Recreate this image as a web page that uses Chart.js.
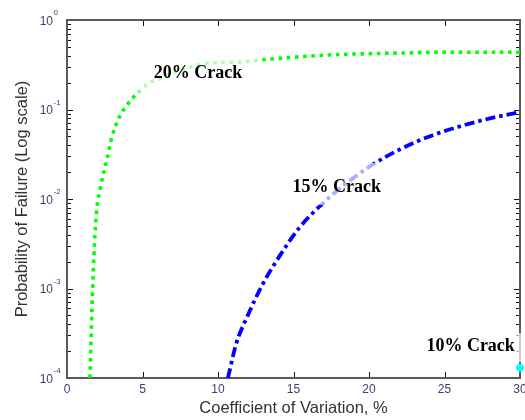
<!DOCTYPE html>
<html>
<head>
<meta charset="utf-8">
<script src="https://cdn.jsdelivr.net/npm/chart.js@4"></script>
<style>
  html, body { margin: 0; padding: 0; background: #fff; }
  #wrap { width: 525px; height: 420px; position: relative; }
</style>
</head>
<body>
<div id="wrap"><canvas id="pf-chart"></canvas></div>
<script>
// values
const covGreen = [1.52, 1.59, 1.65, 1.72, 1.78, 1.85, 1.92, 1.98, 2.05, 2.18, 2.31, 2.51, 2.64, 2.97, 3.37, 3.97, 4.63, 5.49, 6.4, 7.5, 9.5, 11.5, 12.6, 17.4, 22, 25.4, 30];
const pfGreen = [1.0e-4, 2.6e-4, 5.8e-4, 1.23e-3, 2.3e-3, 4.0e-3, 5.9e-3, 7.9e-3, 9.8e-3, 0.0126, 0.0162, 0.0224, 0.0275, 0.049, 0.076, 0.112, 0.151, 0.20, 0.229, 0.275, 0.331, 0.339, 0.355, 0.407, 0.427, 0.437, 0.437];

const covBlue = [10.66, 11.2, 11.9, 12.9, 14.0, 15.4, 16.8, 18.3, 20.1, 22.0, 24.0, 26.0, 28.0, 30.0];
const pfBlue = [1.0e-4, 2.4e-4, 4.7e-4, 1.07e-3, 2.2e-3, 4.8e-3, 8.5e-3, 0.0141, 0.0234, 0.0355, 0.050, 0.0646, 0.0794, 0.0933];

const covCyan = [30];
const pfCyan = [1.3e-4];

const xTicks = [0, 5, 10, 15, 20, 25, 30];
const yDecades = [-4, -3, -2, -1, 0];

// curve labels: anchor in data units, box offsets in px from anchor
const curveLabels = [
  { text: '20% Crack', x: 5.75, y: 0.225, box: [-16, -21, 122, 35] },
  { text: '15% Crack', x: 14.94, y: 0.012, box: [-13, -29, 115, 42] },
  { text: '10% Crack', x: 23.8, y: 2.0e-4, box: [-12, -18, 110, 29] }
];

const pts = (xs, ys) => xs.map((x, i) => ({ x: x, y: ys[i] }));

const framePlugin = {
  id: 'frame',
  beforeDatasetsDraw(chart) {
    const { ctx, chartArea: a, scales } = chart;
    const xs = scales.x, ys = scales.y;
    ctx.save();
    ctx.strokeStyle = '#111';
    ctx.lineWidth = 1;
    ctx.beginPath();
    xTicks.forEach(v => {
      const px = Math.round(xs.getPixelForValue(v)) + 0.5;
      ctx.moveTo(px, a.bottom); ctx.lineTo(px, a.bottom - 6);
      ctx.moveTo(px, a.top); ctx.lineTo(px, a.top + 6);
    });
    yDecades.forEach(d => {
      for (let m = 1; m <= 9; m++) {
        if (d === 0 && m > 1) break;
        const py = Math.round(ys.getPixelForValue(m * Math.pow(10, d))) + 0.5;
        const len = m === 1 ? 6 : 4;
        ctx.moveTo(a.left, py); ctx.lineTo(a.left + len, py);
        ctx.moveTo(a.right, py); ctx.lineTo(a.right - len, py);
      }
    });
    ctx.stroke();
    ctx.strokeStyle = '#5a5a5a';
    ctx.lineWidth = 2;
    ctx.strokeRect(a.left, a.top, a.right - a.left, a.bottom - a.top);
    ctx.restore();
  },
  afterDatasetsDraw(chart) {
    const { ctx, scales } = chart;
    ctx.save();
    curveLabels.forEach(l => {
      const px = scales.x.getPixelForValue(l.x);
      const py = scales.y.getPixelForValue(l.y);
      ctx.fillStyle = 'rgba(255,255,255,0.68)';
      ctx.fillRect(px + l.box[0], py + l.box[1], l.box[2], l.box[3]);
      ctx.fillStyle = '#000';
      ctx.font = 'bold 18px "Liberation Serif", "Times New Roman", serif';
      ctx.textAlign = 'left';
      ctx.textBaseline = 'alphabetic';
      ctx.fillText(l.text, px, py);
    });
    ctx.restore();
  },
  afterDraw(chart) {
    const { ctx, chartArea: a, scales } = chart;
    ctx.save();
    ctx.fillStyle = '#4a3a6e';
    ctx.textBaseline = 'middle';
    yDecades.forEach(d => {
      const py = scales.y.getPixelForValue(Math.pow(10, d));
      ctx.font = '12px "Liberation Sans", Arial, sans-serif';
      ctx.textAlign = 'right';
      ctx.fillText('10', 53, py + 1.5);
      ctx.font = '8px "Liberation Sans", Arial, sans-serif';
      ctx.textAlign = 'left';
      ctx.fillText(String(d), 53.5, py - 7);
    });
    ctx.font = '12px "Liberation Sans", Arial, sans-serif';
    ctx.textAlign = 'center';
    xTicks.forEach(v => {
      ctx.fillText(String(v), scales.x.getPixelForValue(v), 389.5);
    });
    ctx.fillStyle = '#333338';
    ctx.font = '16.5px "Liberation Sans", Arial, sans-serif';
    ctx.fillText('Coefficient of Variation, %', (a.left + a.right) / 2, 408.5);
    ctx.translate(22.5, (a.top + a.bottom) / 2);
    ctx.rotate(-Math.PI / 2);
    ctx.fillText('Probability of Failure (Log scale)', 0, 0);
    ctx.restore();
  }
};

new Chart(document.getElementById('pf-chart'), {
  type: 'scatter',
  data: {
    datasets: [
      { label: '20% Crack', data: pts(covGreen, pfGreen), showLine: true, borderColor: '#00ff00', borderWidth: 3.6, borderDash: [3.6, 4.6], borderCapStyle: 'butt', pointRadius: 0, cubicInterpolationMode: 'monotone' },
      { label: '15% Crack', data: pts(covBlue, pfBlue), showLine: true, borderColor: '#0000ff', borderWidth: 3.8, borderDash: [10, 4, 3.5, 4], borderCapStyle: 'butt', pointRadius: 0, cubicInterpolationMode: 'monotone' },
      { label: '10% Crack', data: pts(covCyan, pfCyan), showLine: false, pointRadius: 3.5, pointBackgroundColor: '#00ffff', pointBorderColor: '#00ffff', clip: false }
    ]
  },
  options: {
    responsive: true,
    maintainAspectRatio: false,
    animation: false,
    layout: { padding: { top: 20, right: 4, left: 0, bottom: 0 } },
    plugins: { legend: { display: false }, tooltip: { enabled: false } },
    scales: {
      x: {
        type: 'linear', min: 0, max: 30,
        grid: { display: false }, border: { display: false },
        ticks: { display: false },
        afterFit: s => { s.height = 42; }
      },
      y: {
        type: 'logarithmic', min: 1e-4, max: 1,
        grid: { display: false }, border: { display: false },
        ticks: { display: false },
        afterFit: s => { s.width = 67; }
      }
    }
  },
  plugins: [framePlugin]
});
</script>
</body>
</html>
